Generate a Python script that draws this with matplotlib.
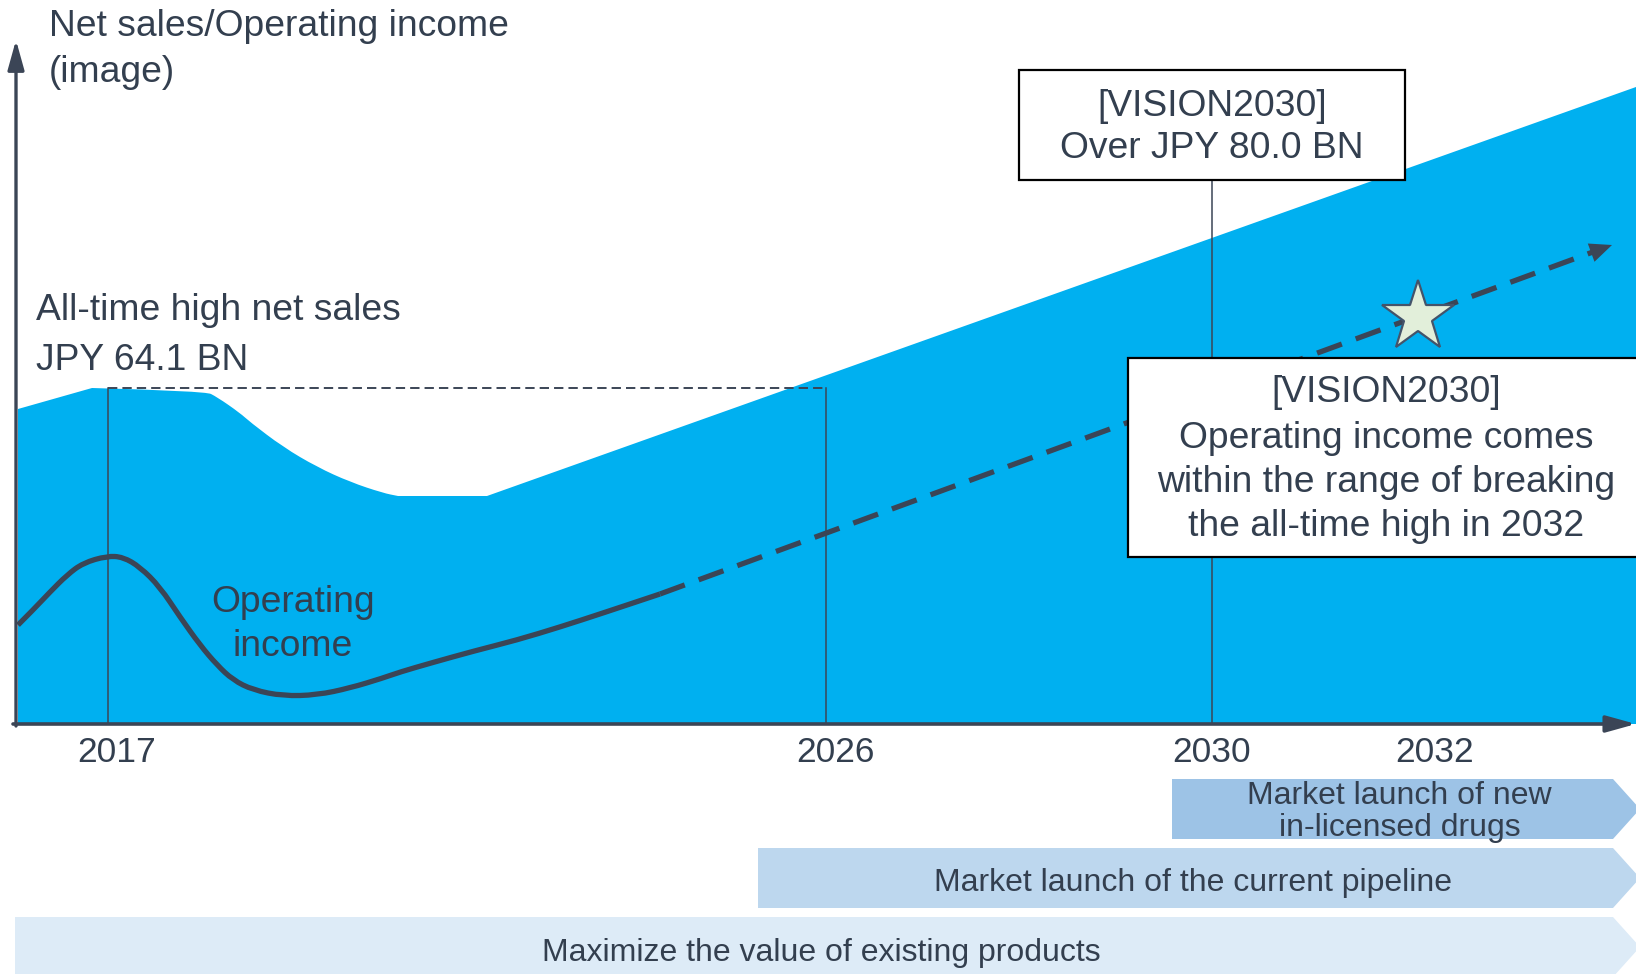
import matplotlib
matplotlib.use("Agg")
import matplotlib.pyplot as plt
from matplotlib.patches import Rectangle, Polygon, PathPatch
from matplotlib.path import Path

plt.rcParams["font.family"] = ["Liberation Sans", "DejaVu Sans"]

TEXT = "#333F4F"
LINE = "#3B4556"
BLUE = "#00B0F0"

# chart units: x = position on the timeline, y = "image" level (0 = x axis)
years = ["2017", "2026", "2030", "2032"]
year_x = [9.2, 81.0, 119.6, 141.9]

# net sales (blue area)
sales_x = [0.2, 7.6, 17.4, 18.9, 20.1, 22.4, 23.4, 26.7, 30.1, 33.4, 36.7, 38.2, 47.1, 162.0]
sales_y = [31.5, 33.6, 33.6, 33.3, 32.7, 31.1, 30.2, 27.7, 25.7, 24.2, 23.1, 22.8, 22.8, 63.7]
all_time_high = 33.6

# operating income (solid part = actual, dashed = plan)
income_x = [0.2, 1.7, 3.4, 5.1, 6.7, 9.1, 10.7, 12.4, 14.4, 16.4, 18.4, 20.1, 21.7,
            23.7, 26.7, 30.1, 33.4, 36.7, 38.4, 41.5, 45.8, 50.1, 54.4, 58.7, 64.4]
income_y = [9.9, 11.4, 13.2, 14.9, 16.1, 16.8, 16.7, 15.7, 13.7, 10.7, 7.9, 5.9, 4.4,
            3.4, 2.8, 2.9, 3.6, 4.6, 5.2, 6.1, 7.3, 8.4, 9.7, 11.1, 13.0]
forecast_x = [64.4, 159.6]
forecast_y = [13.0, 47.9]
star_x, star_y = 140.2, 40.7

phases = ["Market launch of new\nin-licensed drugs",
          "Market launch of the current pipeline",
          "Maximize the value of existing products"]
phase_start = [115.6, 74.2, -0.1]
phase_colors = ["#9DC3E6", "#BDD7EE", "#DDEBF7"]


def smooth(xs, ys):
    # quadratic segments through the midpoints, the read points act as controls
    verts = [(xs[0], ys[0])]
    codes = [Path.MOVETO]
    for i in range(1, len(xs) - 1):
        verts += [(xs[i], ys[i]), ((xs[i] + xs[i + 1]) / 2, (ys[i] + ys[i + 1]) / 2)]
        codes += [Path.CURVE3, Path.CURVE3]
    verts.append((xs[-1], ys[-1]))
    codes.append(Path.LINETO)
    return verts, codes


fig = plt.figure(figsize=(16.36, 9.74), dpi=100)
ax = fig.add_axes([0, 0, 1, 1])
ax.set_xlim(-1.6, 162.0)
ax.set_ylim(-25.0, 72.4)
ax.axis("off")

# net sales area: straight corners, smooth shoulder between 17.4 and 38.2
v, c = smooth(sales_x[2:12], sales_y[2:12])
verts = [(sales_x[0], 0), (sales_x[0], sales_y[0]), (sales_x[1], sales_y[1])] + v[1:] \
    + [(sales_x[12], sales_y[12]), (sales_x[13], sales_y[13]), (sales_x[13], 0), (sales_x[0], 0)]
codes = [Path.MOVETO, Path.LINETO, Path.LINETO] + c[1:] \
    + [Path.LINETO, Path.LINETO, Path.LINETO, Path.CLOSEPOLY]
ax.add_patch(PathPatch(Path(verts, codes), fc=BLUE, ec="none", zorder=1))

# all-time high reference
ax.plot([year_x[0], year_x[1]], [all_time_high, all_time_high], color=LINE,
        lw=1.4, ls=(0, (4.8, 2.6)), zorder=2)
ax.plot([year_x[0], year_x[0]], [0, all_time_high], color=LINE, lw=1.1, zorder=2)
ax.plot([year_x[1], year_x[1]], [0, all_time_high], color=LINE, lw=1.1, zorder=2)
ax.plot([year_x[2], year_x[2]], [0, 54.4], color=LINE, lw=1.1, zorder=2)

# operating income
v, c = smooth(income_x, income_y)
ax.add_patch(PathPatch(Path(v, c), fc="none", ec=LINE, lw=3.8, capstyle="butt",
                       joinstyle="round", zorder=3))
fx = forecast_x[1] - 2.0
fy = forecast_y[0] + (forecast_y[1] - forecast_y[0]) * (fx - forecast_x[0]) / (forecast_x[1] - forecast_x[0])
ax.plot([forecast_x[0], fx], [forecast_y[0], fy], color=LINE, lw=3.8,
        ls=(0, (5, 2.8)), zorder=3)
ax.annotate("", xy=(forecast_x[1], forecast_y[1]), xytext=(fx, fy),
            arrowprops=dict(arrowstyle="-|>,head_length=1.6,head_width=0.7",
                            color=LINE, lw=0, shrinkA=0, shrinkB=0), zorder=3)
ax.plot(star_x, star_y, marker="*", ms=54, mfc="#E2EFDA", mec="#44546A",
        mew=1.6, zorder=5)

# axes arrows
ax.annotate("", xy=(0, 68.4), xytext=(0, -0.2),
            arrowprops=dict(arrowstyle="-|>,head_length=1.8,head_width=0.5",
                            color=LINE, lw=2.4, shrinkA=0, shrinkB=0), zorder=4)
ax.annotate("", xy=(162.0, 0), xytext=(-0.3, 0),
            arrowprops=dict(arrowstyle="-|>,head_length=1.8,head_width=0.5",
                            color=LINE, lw=2.6, shrinkA=0, shrinkB=0), zorder=4)

for label, x in zip(years, year_x):
    ax.text(x + (0.9 if label in ("2017", "2026") else 0), -2.9, label,
            ha="center", va="center", fontsize=25.5, color=TEXT)

# text labels
ax.text(3.3, 69.8, "Net sales/Operating income", ha="left", va="center",
        fontsize=26.8, color=TEXT)
ax.text(3.3, 65.2, "(image)", ha="left", va="center", fontsize=26.8, color=TEXT)
ax.text(2.05, 41.4, "All-time high net sales", ha="left", va="center",
        fontsize=26.8, color=TEXT)
ax.text(2.05, 36.3, "JPY 64.1 BN", ha="left", va="center", fontsize=26.8, color=TEXT)
ax.text(27.7, 12.1, "Operating", ha="center", va="center", fontsize=26.8, color=TEXT, zorder=6)
ax.text(27.7, 7.7, "income", ha="center", va="center", fontsize=26.8, color=TEXT, zorder=6)

# VISION2030 boxes
ax.add_patch(Rectangle((100.3, 54.4), 38.6, 11.0, fc="white", ec="black",
                       lw=1.6, zorder=4))
ax.text(119.6, 61.8, "[VISION2030]", ha="center", va="center", fontsize=26.8,
        color=TEXT, zorder=6)
ax.text(119.6, 57.5, "Over JPY 80.0 BN", ha="center", va="center", fontsize=26.8,
        color=TEXT, zorder=6)

ax.add_patch(Rectangle((111.2, 16.7), 51.2, 19.9, fc="white", ec="black",
                       lw=1.6, zorder=4))
box_lines = ["[VISION2030]", "Operating income comes",
             "within the range of breaking", "the all-time high in 2032"]
for line, y in zip(box_lines, [33.1, 28.6, 24.1, 19.7]):
    ax.text(137.0, y, line, ha="center", va="center", fontsize=26.8,
            color=TEXT, zorder=6)

# phase chevrons
rows = [(-5.5, -11.5), (-12.4, -18.4), (-19.3, -25.3)]
text_y = [(-7.2, -10.4), (-15.9,), (-22.9,)]
for label, x0, col, (top, bot), ty in zip(phases, phase_start, phase_colors, rows, text_y):
    mid = (top + bot) / 2
    ax.add_patch(Polygon([(x0, top), (159.7, top), (162.4, mid), (159.7, bot), (x0, bot)],
                         closed=True, fc=col, ec="none", zorder=2))
    cx = (x0 + 159.7) / 2 + 0.7
    for line, y in zip(label.split("\n"), ty):
        ax.text(cx, y, line, ha="center", va="center", fontsize=23, color=TEXT)

fig.savefig("out.png", dpi=100)
